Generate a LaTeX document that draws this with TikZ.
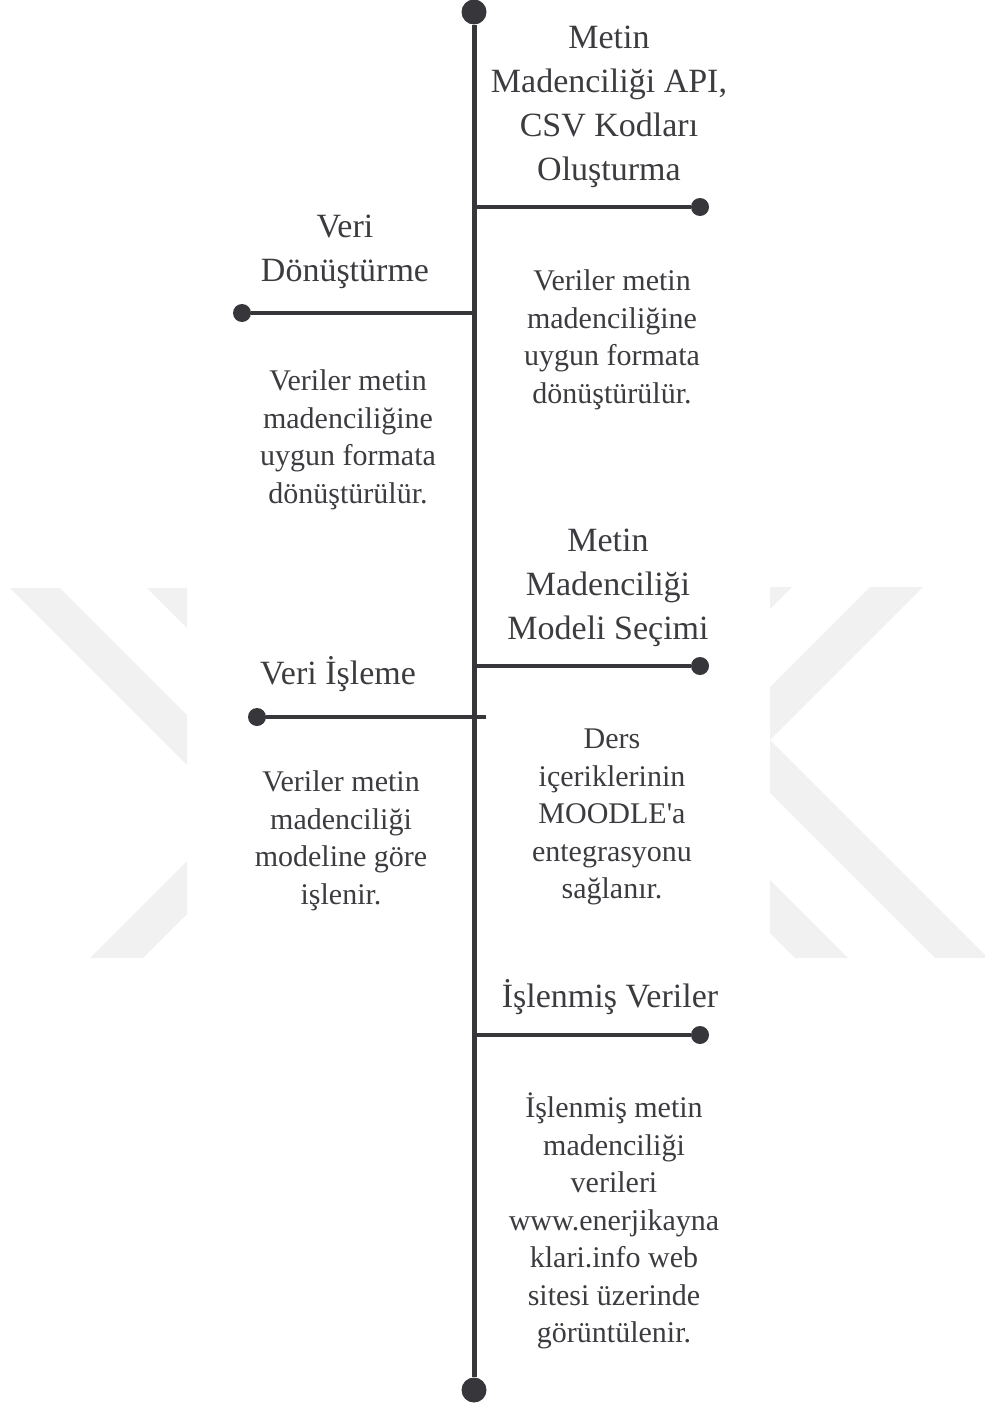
\documentclass[tikz,border=0pt]{standalone}
\usepackage{fontspec}
\setmainfont{Liberation Serif}
\usepackage{xcolor}
\usepackage{tikz}
\usetikzlibrary{positioning}
\definecolor{lineGray}{HTML}{36363B}
\definecolor{textGray}{HTML}{3C3C40}
\definecolor{markGray}{HTML}{F1F1F1}

\begin{document}
\begin{tikzpicture}[x=1pt, y=-1pt,
  spine/.style={lineGray, line width=5pt},
  branch/.style={lineGray, line width=3.5pt},
  bigdot/.style={circle, fill=lineGray, inner sep=0pt, minimum size=25pt},
  enddot/.style={circle, fill=lineGray, inner sep=0pt, minimum size=18pt},
  head/.style={textGray, align=center, inner sep=0pt, font=\fontsize{34}{44}\selectfont},
  body/.style={textGray, align=center, inner sep=0pt, font=\fontsize{30}{37.5}\selectfont}]
\useasboundingbox (0,0) rectangle (985,1410);
% ---------- faint watermark, left and right ----------
\fill[markGray] (10,588)--(60,588)--(187,715)--(187,765)--cycle;
\fill[markGray] (147,588)--(187,588)--(187,628)--cycle;
\fill[markGray] (90,958)--(143,958)--(187,914)--(187,861)--cycle;
\fill[markGray] (770,587)--(792,587)--(770,609)--cycle;
\fill[markGray] (870,587)--(923,587)--(770,740)--(770,687)--cycle;
\fill[markGray] (770,740)--(985,955)--(985,958)--(935,958)--(770,793)--cycle;
\fill[markGray] (770,880)--(848,958)--(795,958)--(770,933)--cycle;
% ---------- spine ----------
\node[bigdot] (top) at (474,12) {};
\node[bigdot] (bot) at (474,1390) {};
\draw[spine] (top)--(bot);
% ---------- (1) API, CSV ----------
\coordinate (r1) at (474,207);
\node[enddot] (e1) at (700,207) {};
\draw[branch] (r1)--(e1);
\node[head] (headApi) at (609,107) {Metin\\Madenciliği API,\\CSV Kodları\\Oluşturma};
\node[body] (textApi) at (612,340) {Veriler metin\\madenciliğine\\uygun formata\\dönüştürülür.};
% ---------- (2) Veri Dönüştürme ----------
\coordinate (r2) at (474,313);
\node[enddot] (e2) at (242,313) {};
\draw[branch] (r2)--(e2);
\node[head] (headConv) at (345,252) {Veri\\Dönüştürme};
\node[body] (textConv) at (348,440) {Veriler metin\\madenciliğine\\uygun formata\\dönüştürülür.};
% ---------- (3) Model Seçimi ----------
\coordinate (r3) at (474,666);
\node[enddot] (e3) at (700,666) {};
\draw[branch] (r3)--(e3);
\node[head] (headModel) at (608,588) {Metin\\Madenciliği\\Modeli Seçimi};
\node[body] (textModel) at (612,817) {Ders\\içeriklerinin\\MOODLE\textquotesingle a\\entegrasyonu\\sağlanır.};
% ---------- (4) Veri İşleme ----------
\coordinate (r4) at (486,717);
\node[enddot] (e4) at (257,717) {};
\draw[branch] (r4)--(e4);
\node[head] (headProc) at (338,674) {Veri İşleme};
\node[body] (textProc) at (341,841) {Veriler metin\\madenciliği\\modeline göre\\işlenir.};
% ---------- (5) İşlenmiş Veriler ----------
\coordinate (r5) at (474,1035);
\node[enddot] (e5) at (700,1035) {};
\draw[branch] (r5)--(e5);
\node[head] (headDone) at (610,997) {İşlenmiş Veriler};
\node[body] (textDone) at (614,1221) {İşlenmiş metin\\madenciliği\\verileri\\www.enerjikayna\\klari.info web\\sitesi üzerinde\\görüntülenir.};
\end{tikzpicture}
\end{document}
